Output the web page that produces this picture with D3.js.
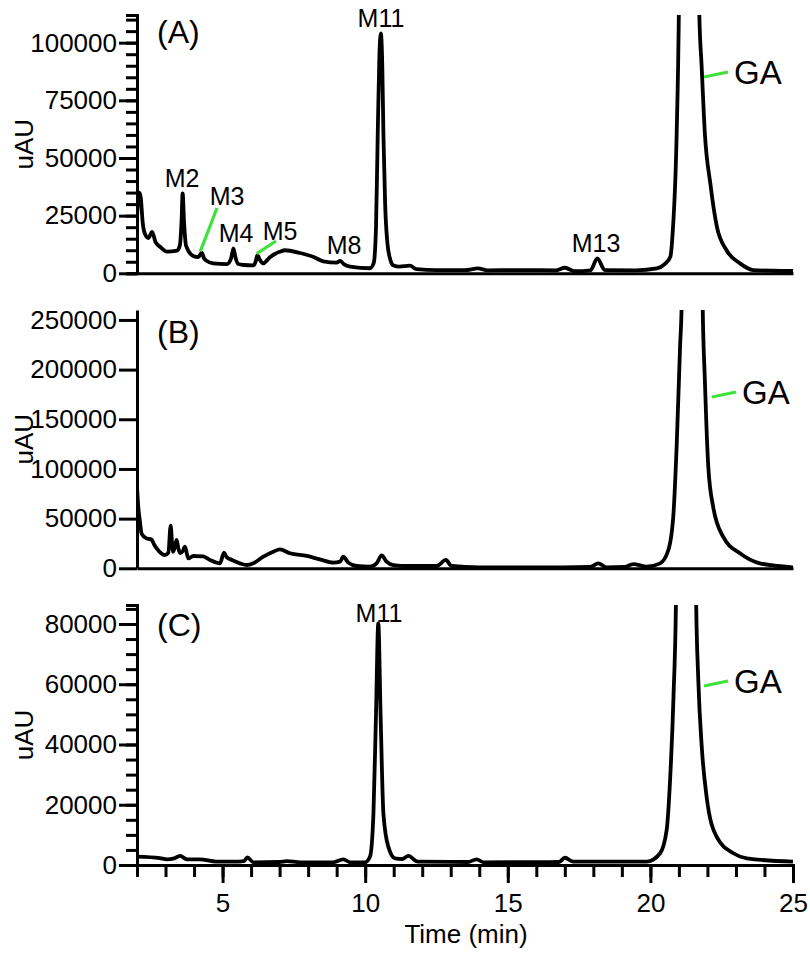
<!DOCTYPE html>
<html>
<head>
<meta charset="utf-8">
<script src="https://cdn.jsdelivr.net/npm/d3@7"></script>
<style>
    body { margin: 0; background: #fff; }
    svg { display: block; font-family: Arial, "Liberation Sans", sans-serif; }
</style>
</head>
<body>
<svg id="chart" width="810" height="959"></svg>
<script>
'use strict';

// retention time (min) and absorbance (uAU)
var timeA = [2.0, 2.05, 2.08, 2.13, 2.2, 2.28, 2.4, 2.53, 2.65, 2.81, 3.05, 3.4, 3.5, 3.56, 3.6, 3.65, 3.72, 3.97, 4.15,
    4.27, 4.35, 4.43, 4.67, 5.15, 5.3, 5.38, 5.46, 5.55, 5.73, 6.08, 6.17, 6.22, 6.3, 6.42, 6.66, 7.0, 7.19, 7.72, 8.17,
    8.53, 9.0, 9.12, 9.25, 9.47, 10.17, 10.3, 10.38, 10.44, 10.5, 10.55, 10.6, 10.64, 10.7, 10.78, 10.88, 10.98, 11.2,
    11.57, 11.8, 12.5, 13.5, 13.95, 14.3, 15.5, 16.7, 17.0, 17.35, 17.9, 18.14, 18.4, 19.5, 20.23, 20.5, 20.7, 20.78,
    20.92, 21.0, 21.35, 21.71, 21.8, 21.91, 22.1, 22.33, 22.67, 23.14, 23.6, 24.3, 25];
var valueA = [24000, 34000, 35000, 33000, 22000, 17000, 15300, 18000, 13500, 11500, 9400, 9800, 12000, 22000, 34600,
    22000, 12000, 7500, 7000, 9000, 6500, 5500, 4300, 4000, 6500, 10800, 6500, 4000, 3600, 3400, 5500, 7900, 6000, 4300,
    7000, 9300, 10000, 8800, 7200, 5200, 4600, 5400, 4000, 2900, 2200, 4500, 20000, 60000, 95000, 104000, 90000, 60000,
    30000, 13000, 6000, 3500, 2900, 3300, 1800, 1400, 1400, 2100, 1300, 1400, 1300, 2400, 900, 1300, 6500, 1400, 1300,
    2100, 4000, 7200, 17400, 60000, 115000, 1200000, 115000, 89000, 60600, 39000, 20200, 10000, 4300, 1400, 1100, 1000];

var timeB = [2.0, 2.05, 2.1, 2.16, 2.34, 2.51, 2.6, 2.69, 2.98, 3.1, 3.18, 3.23, 3.27, 3.33, 3.39, 3.45, 3.51, 3.6, 3.68,
    3.8, 3.97, 4.32, 4.56, 4.91, 5.05, 5.15, 5.33, 5.61, 5.85, 6.08, 6.43, 6.78, 7.01, 7.36, 7.95, 8.41, 8.88, 9.12, 9.23,
    9.41, 9.7, 10.16, 10.4, 10.58, 10.75, 10.99, 11.46, 12.51, 12.83, 13.03, 14.0, 16.9, 17.9, 18.17, 18.46, 19.1, 19.4,
    19.87, 20.34, 20.63, 20.81, 20.92, 21.04, 21.1, 21.45, 21.83, 21.91, 22.03, 22.2, 22.55, 23.14, 23.84, 25];
var valueB = [82000, 60000, 48000, 35000, 30000, 29000, 24000, 20000, 13400, 15500, 43000, 25000, 16700, 22000, 28500,
    20000, 15400, 17000, 21700, 10000, 12400, 12000, 8400, 5000, 15700, 11000, 8400, 5000, 3300, 5000, 11700, 16700,
    19100, 15100, 12400, 9000, 5700, 6700, 11700, 5700, 2300, 1700, 5000, 13100, 6700, 3300, 2300, 2300, 8400, 2300,
    1000, 1000, 1500, 5000, 1000, 1500, 4300, 1700, 5000, 18400, 55400, 122500, 223000, 270000, 3000000, 270000,
    189600, 102300, 62000, 31800, 15100, 5000, 1000];

var timeC = [2.0, 2.8, 3.05, 3.3, 3.51, 3.75, 4.2, 4.78, 5.38, 5.75, 5.87, 6.08, 7.0, 7.25, 7.72, 8.88, 9.23, 9.47, 10.0,
    10.17, 10.29, 10.38, 10.46, 10.54, 10.64, 10.81, 11.05, 11.3, 11.51, 11.85, 13.6, 13.91, 14.15, 16.8, 17.0, 17.3,
    19.87, 20.34, 20.57, 20.69, 20.81, 20.9, 21.25, 21.6, 21.68, 21.8, 21.97, 22.32, 22.91, 23.38, 25];
var valueC = [2800, 2300, 1900, 2200, 3000, 1900, 1900, 1100, 1100, 1300, 2500, 900, 1000, 1300, 900, 900, 1900, 900,
    900, 2800, 17100, 50300, 80200, 50000, 17000, 6100, 2200, 2000, 3000, 1100, 1000, 1900, 900, 1000, 2400, 1100, 1100,
    3900, 11600, 28200, 55900, 90000, 900000, 90000, 61400, 39300, 22700, 9400, 3900, 2200, 1100];

var xTicks = [5, 10, 15, 20, 25];
var yTicksA = [0, 25000, 50000, 75000, 100000];
var yTicksB = [0, 50000, 100000, 150000, 200000, 250000];
var yTicksC = [0, 20000, 40000, 60000, 80000];

var peakLabelsA = [
    {name: "M2", lx: 182, ly: 187},
    {name: "M3", lx: 227, ly: 205},
    {name: "M4", lx: 236, ly: 242},
    {name: "M5", lx: 280, ly: 240},
    {name: "M8", lx: 344, ly: 254},
    {name: "M11", lx: 381, ly: 27},
    {name: "M13", lx: 596, ly: 252}
];

var svg = d3.select("#chart"),
    green = "#3fe23a",
    left = 137, right = 793;

var x = d3.scaleLinear().domain([2, 25]).range([left, right]);

function styleAxis(sel) {
    sel.selectAll("path, line").style("stroke", "#000").style("stroke-width", 3);
    sel.selectAll("text").style("font-size", "26px").style("fill", "#000")
        .style("font-family", "Arial, 'Liberation Sans', sans-serif");
}

function drawPanel(cfg) {
    var g = svg.append("g"),
        y = d3.scaleLinear().domain([0, cfg.ymax]).range([cfg.bottom, cfg.top]),
        data = d3.zip(cfg.times, cfg.values);

    g.append("clipPath").attr("id", "clip" + cfg.id)
        .append("rect")
        .attr("x", left).attr("y", cfg.top)
        .attr("width", right - left).attr("height", cfg.bottom - cfg.top);

    var line = d3.line()
        .x(function(d) { return x(d[0]); })
        .y(function(d) { return y(d[1]); })
        .curve(d3.curveMonotoneX);

    g.append("path")
        .datum(data)
        .attr("clip-path", "url(#clip" + cfg.id + ")")
        .attr("d", line)
        .style("fill", "none")
        .style("stroke", "#000")
        .style("stroke-width", 3.8)
        .style("stroke-linejoin", "round");

    // minor ticks first so the major ones sit on top
    if (cfg.minor) {
        g.append("g")
            .attr("transform", "translate(" + left + ",0)")
            .call(d3.axisLeft(y).tickValues(d3.range(0, cfg.ymax, cfg.minor)).tickSize(11).tickFormat(""))
            .call(styleAxis);
    }
    g.append("g")
        .attr("transform", "translate(" + left + ",0)")
        .call(d3.axisLeft(y).tickValues(cfg.yticks).tickSize(18).tickSizeOuter(0).tickPadding(2)
            .tickFormat(d3.format("d")))
        .call(styleAxis);

    var xg = g.append("g").attr("transform", "translate(0," + cfg.bottom + ")");
    if (cfg.xlabels) {
        xg.call(d3.axisBottom(x).tickValues(d3.range(2, 26, 1)).tickSize(12).tickFormat(""))
            .call(styleAxis);
        xg.append("g")
            .call(d3.axisBottom(x).tickValues(xTicks).tickSize(18).tickSizeOuter(0).tickPadding(11))
            .call(styleAxis);
    } else {
        xg.call(d3.axisBottom(x).tickValues([]).tickSizeOuter(0)).call(styleAxis);
    }

    g.append("text")
        .attr("transform", "translate(33," + ((cfg.top + cfg.bottom) / 2) + ") rotate(-90)")
        .style("text-anchor", "middle")
        .style("font-size", "26px")
        .text("uAU");

    g.append("text")
        .attr("x", left + 20).attr("y", cfg.top + cfg.labelDy)
        .style("font-size", "32px")
        .text(cfg.label);

    // GA pointer
    g.append("line")
        .attr("x1", cfg.ga[0]).attr("y1", cfg.ga[1])
        .attr("x2", cfg.ga[0] + 24).attr("y2", cfg.ga[1] - 5)
        .style("stroke", green).style("stroke-width", 3.2);
    g.append("text")
        .attr("x", cfg.ga[0] + 30).attr("y", cfg.ga[1] + 7)
        .style("font-size", "33px")
        .text("GA");

    return {g: g, y: y};
}

var panelA = drawPanel({id: "A", times: timeA, values: valueA, ymax: 112000, top: 15, bottom: 273.3,
    yticks: yTicksA, minor: 5000, label: "(A)", labelDy: 28, ga: [704, 77]});
drawPanel({id: "B", times: timeB, values: valueB, ymax: 260000, top: 310, bottom: 568.3,
    yticks: yTicksB, minor: 0, label: "(B)", labelDy: 33, ga: [712, 397]});
var panelC = drawPanel({id: "C", times: timeC, values: valueC, ymax: 86300, top: 605, bottom: 865,
    yticks: yTicksC, minor: 5000, label: "(C)", labelDy: 31, xlabels: true, ga: [704, 686]});

// metabolite labels in panel A
panelA.g.selectAll(".peakLabel")
    .data(peakLabelsA)
    .enter().append("text")
    .attr("class", "peakLabel")
    .attr("x", function(d) { return d.lx; })
    .attr("y", function(d) { return d.ly; })
    .style("text-anchor", "middle")
    .style("font-size", "25px")
    .text(function(d) { return d.name; });

// green leader lines for M3 and M5
panelA.g.append("line")
    .attr("x1", 217).attr("y1", 208).attr("x2", x(4.22)).attr("y2", panelA.y(9500))
    .style("stroke", green).style("stroke-width", 3.2);
panelA.g.append("line")
    .attr("x1", 276).attr("y1", 241).attr("x2", x(6.2)).attr("y2", panelA.y(8500))
    .style("stroke", green).style("stroke-width", 3.2);

panelC.g.append("text")
    .attr("x", 379).attr("y", 622)
    .style("text-anchor", "middle")
    .style("font-size", "25px")
    .text("M11");

svg.append("text")
    .attr("x", 466).attr("y", 943)
    .style("text-anchor", "middle")
    .style("font-size", "26px")
    .text("Time (min)");
</script>
</body>
</html>
